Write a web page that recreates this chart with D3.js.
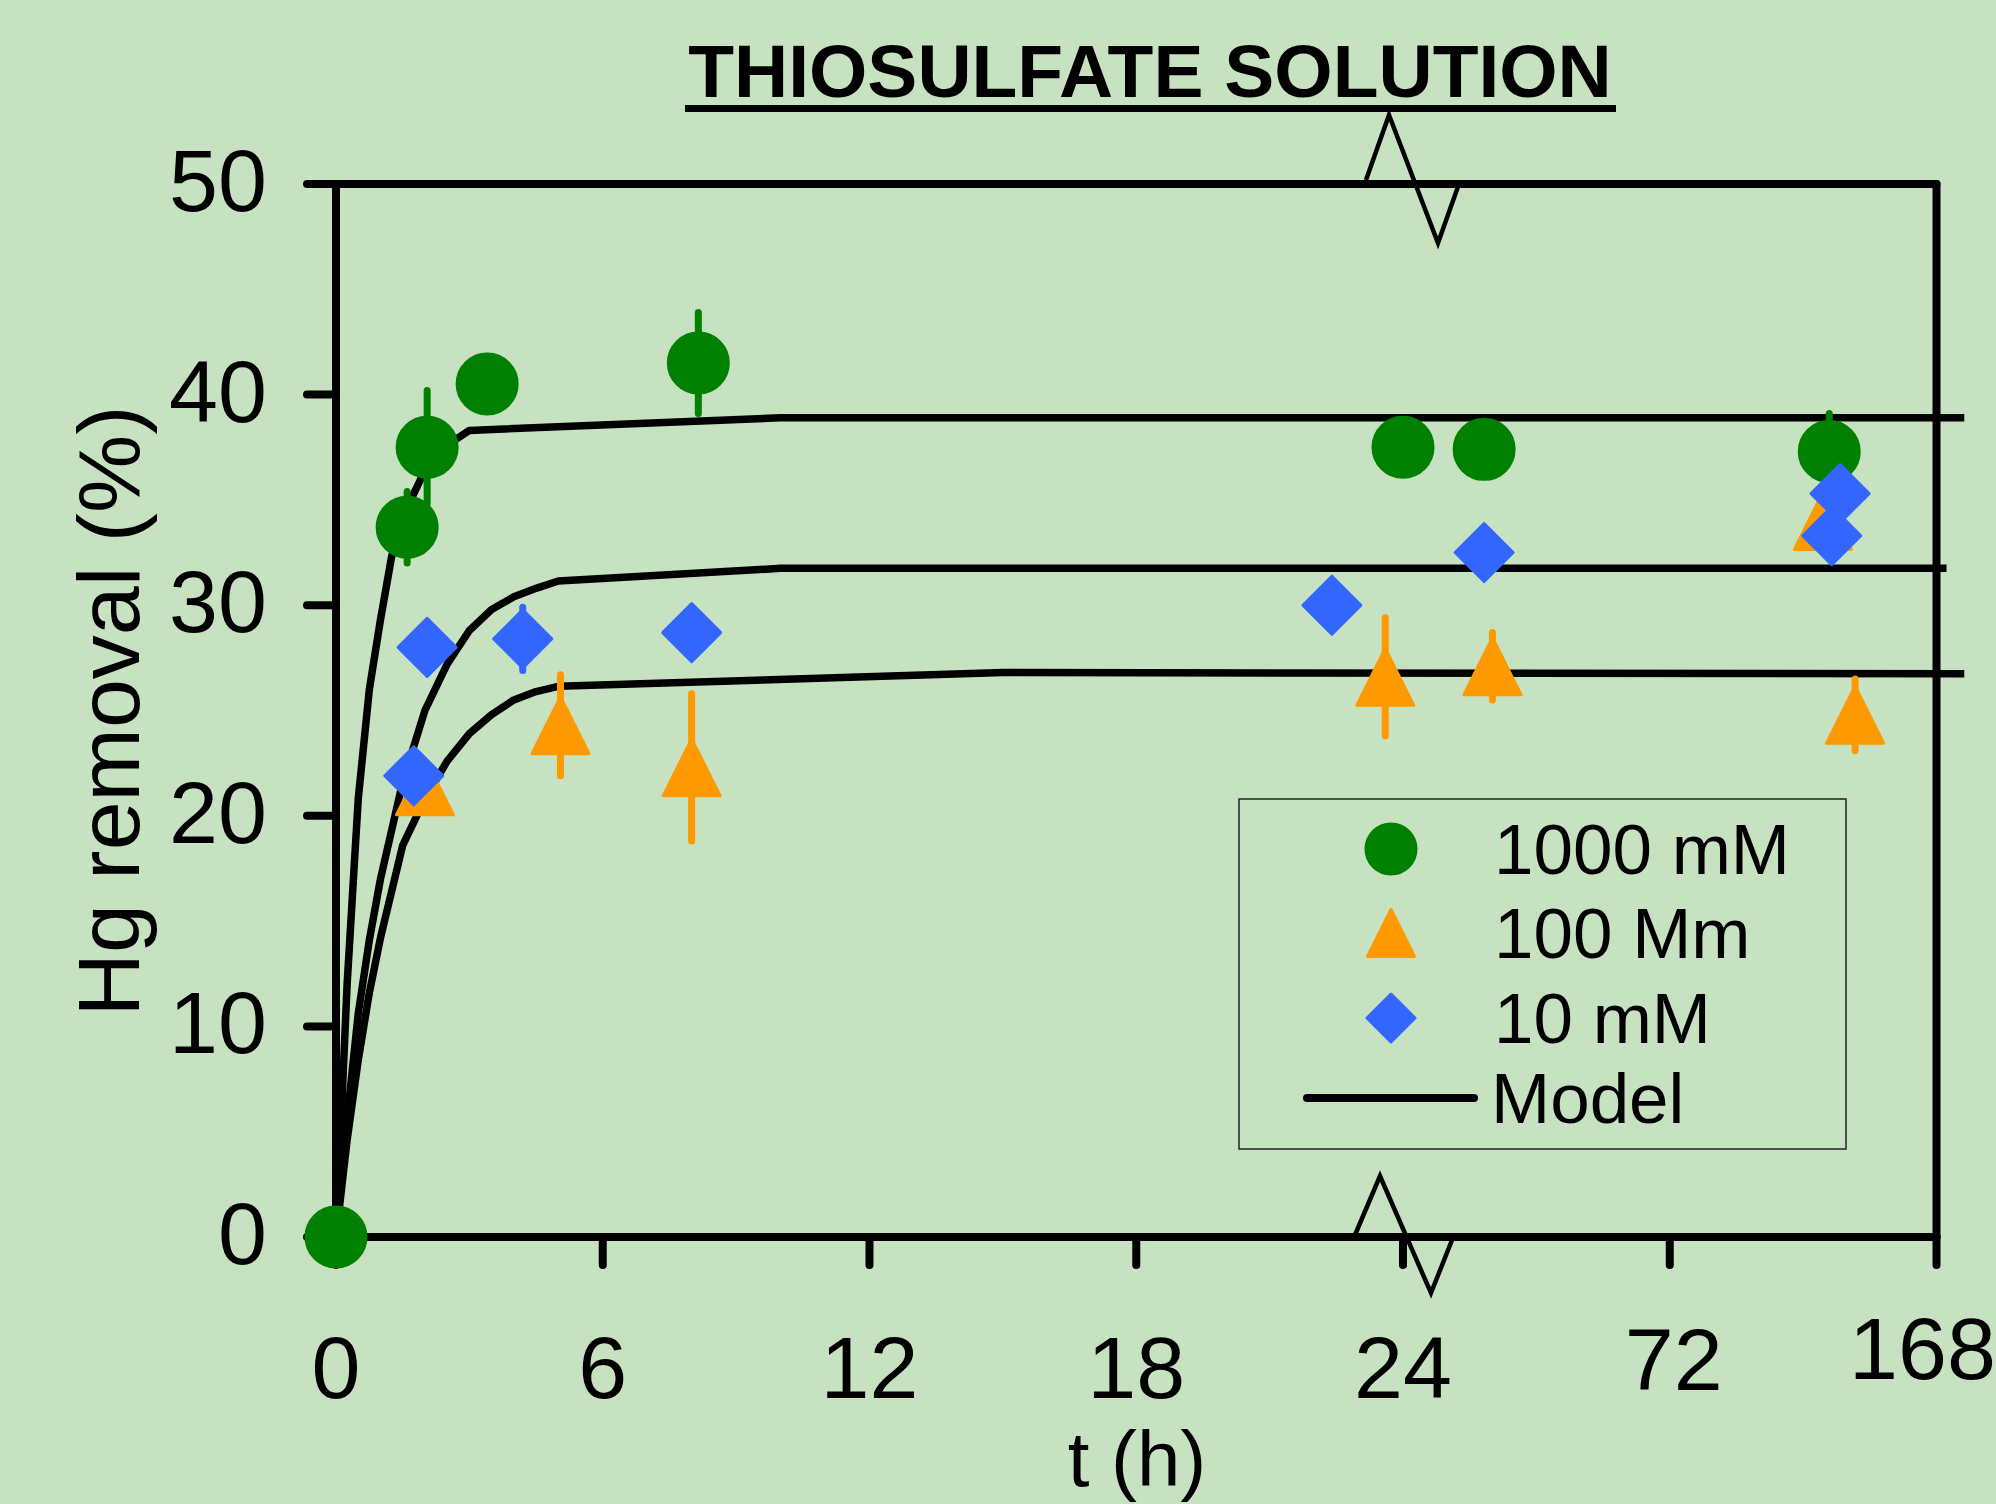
<!DOCTYPE html>
<html>
<head>
<meta charset="utf-8">
<title>Thiosulfate solution</title>
<script src="https://cdn.jsdelivr.net/npm/d3@7"></script>
<style>
  html, body { margin: 0; padding: 0; background: #c7e2c1; }
  svg { display: block; font-family: 'Liberation Sans', Arial, sans-serif; }
</style>
</head>
<body>
<div id="chart"></div>
<script>
// axis ticks (x axis is broken after 24 h, each label gets the same room)
const tickHours = [0, 6, 12, 18, 24, 72, 168];
const yTicks = [0, 10, 20, 30, 40, 50];

// measured points, 1000 mM
const t1000 = [0, 1.6, 2.05, 3.4, 8.15, 24, 38.6, 129.4];
const hg1000 = [0, 33.7, 37.5, 40.5, 41.5, 37.5, 37.4, 37.3];
const err1000 = [0, 1.7, 2.7, 0, 2.4, 0, 0, 1.8];

// measured points, 100 mM
const t100 = [2.0, 5.05, 8.0, 23.6, 40.1, 127.1, 138.7];
const hg100 = [21.4, 24.3, 22.3, 26.6, 27.1, 34.0, 24.8];
const err100 = [0, 2.4, 3.5, 2.8, 1.6, 0, 1.7];

// measured points, 10 mM
const t10 = [1.75, 2.05, 4.2, 8.0, 22.4, 38.6, 130.3, 133.3];
const hg10 = [21.9, 28.0, 28.4, 28.7, 30.0, 32.5, 33.3, 35.3];
const err10 = [0, 0, 1.5, 0, 0, 0, 0, 0];

// model curves
const modelT1000 = [0, 0.25, 0.5, 0.75, 1, 1.25, 1.5, 2, 2.5, 3, 10, 178];
const model1000 = [0, 12, 20.8, 26, 29.3, 32.3, 34.2, 36.4, 37.6, 38.3, 38.9, 38.9];
const modelT10 = [0, 0.25, 0.5, 0.75, 1, 1.5, 2, 2.5, 3, 3.5, 4, 4.5, 5, 10, 171.6];
const model10 = [0, 5.6, 10.6, 14.1, 17, 21.6, 25.0, 27.2, 28.8, 29.8, 30.4, 30.8, 31.15, 31.75, 31.75];
const modelT100 = [0, 0.25, 0.5, 0.75, 1, 1.5, 2, 2.5, 3, 3.5, 4, 4.5, 5, 15, 178];
const model100 = [0, 4.6, 8.4, 11.6, 14.2, 18.6, 20.8, 22.6, 23.9, 24.8, 25.5, 25.9, 26.15, 26.8, 26.75];

const legendLabels = ['1000 mM', '100 Mm', '10 mM', 'Model'];

const width = 1996;
const height = 1504;
const plot = { left: 336, right: 1936.5, top: 184, bottom: 1237 };

const svg = d3.select('#chart')
  .append('svg')
  .attr('width', width)
  .attr('height', height);

svg.append('rect')
  .attr('width', width)
  .attr('height', height)
  .attr('fill', '#c7e2c1');

// polylinear x: equal spacing per labelled tick
const step = (plot.right - plot.left) / (tickHours.length - 1);
const x = d3.scaleLinear()
  .domain(tickHours)
  .range(tickHours.map((d, i) => plot.left + i * step));

const y = d3.scaleLinear()
  .domain([0, 50])
  .range([plot.bottom, plot.top]);

// custom marker shapes
const diamond = {
  draw(ctx, size) {
    const r = Math.sqrt(size) / 2;
    ctx.moveTo(0, -r); ctx.lineTo(r, 0); ctx.lineTo(0, r); ctx.lineTo(-r, 0); ctx.closePath();
  }
};
const triangle = {
  draw(ctx, size) {
    const r = Math.sqrt(size) / 2;
    ctx.moveTo(0, -r); ctx.lineTo(r, r); ctx.lineTo(-r, r); ctx.closePath();
  }
};

const series = [
  { name: legendLabels[0], t: t1000, v: hg1000, err: err1000, color: '#008000', shape: d3.symbolCircle, size: Math.PI * 30 * 30, legendSize: Math.PI * 25 * 25 },
  { name: legendLabels[1], t: t100, v: hg100, err: err100, color: '#ff9900', shape: triangle, size: 57 * 57, legendSize: 47 * 47 },
  { name: legendLabels[2], t: t10, v: hg10, err: err10, color: '#3366ff', shape: diamond, size: 58 * 58, legendSize: 48 * 48 }
];

const models = [
  { t: modelT1000, v: model1000 },
  { t: modelT10, v: model10 },
  { t: modelT100, v: model100 }
];

// frame
const frame = svg.append('g')
  .attr('stroke', '#000')
  .attr('stroke-width', 8)
  .attr('stroke-linecap', 'round')
  .attr('fill', 'none');

frame.append('line').attr('x1', plot.left).attr('y1', plot.top).attr('x2', plot.left).attr('y2', plot.bottom);
frame.append('line').attr('x1', plot.left).attr('y1', plot.top).attr('x2', plot.right).attr('y2', plot.top);
frame.append('line').attr('x1', plot.right).attr('y1', plot.top).attr('x2', plot.right).attr('y2', plot.bottom);
frame.append('line').attr('x1', plot.left).attr('y1', plot.bottom).attr('x2', plot.right).attr('y2', plot.bottom);

// y ticks and labels
frame.selectAll('.ytick')
  .data(yTicks)
  .enter()
  .append('line')
  .attr('x1', plot.left - 29)
  .attr('x2', plot.left)
  .attr('y1', d => y(d))
  .attr('y2', d => y(d));

svg.selectAll('.ylabel')
  .data(yTicks)
  .enter()
  .append('text')
  .attr('x', 267)
  .attr('y', d => y(d) + 27)
  .attr('text-anchor', 'end')
  .style('font-size', '88px')
  .text(d => d);

// x ticks and labels
frame.selectAll('.xtick')
  .data(tickHours)
  .enter()
  .append('line')
  .attr('x1', d => x(d))
  .attr('x2', d => x(d))
  .attr('y1', plot.bottom)
  .attr('y2', plot.bottom + 28);

// the last two labels sit a little higher and the last one is pulled in
const xLabelShift = { 72: [4, -8], 168: [-14, -19] };
svg.selectAll('.xlabel')
  .data(tickHours)
  .enter()
  .append('text')
  .attr('x', d => x(d) + (xLabelShift[d] ? xLabelShift[d][0] : 0))
  .attr('y', d => 1398 + (xLabelShift[d] ? xLabelShift[d][1] : 0))
  .attr('text-anchor', 'middle')
  .style('font-size', '88px')
  .text(d => d);

// axis break marks around 24 h
const bx = x(24);
const zig = d3.line();
svg.append('path')
  .attr('d', zig([[bx - 37, plot.top - 4], [bx - 14, plot.top - 69], [bx + 35, plot.top + 59], [bx + 57, plot.top - 3]]))
  .attr('fill', 'none').attr('stroke', '#000').attr('stroke-width', 4.5);
svg.append('path')
  .attr('d', zig([[bx - 48, plot.bottom - 2], [bx - 23, plot.bottom - 61], [bx + 28, plot.bottom + 56], [bx + 51, plot.bottom - 2]]))
  .attr('fill', 'none').attr('stroke', '#000').attr('stroke-width', 4.5);

// model curves
const line = d3.line()
  .x(d => x(d[0]))
  .y(d => y(d[1]));

svg.selectAll('.model')
  .data(models)
  .enter()
  .append('path')
  .attr('class', 'model')
  .attr('d', m => line(m.t.map((t, i) => [t, m.v[i]])))
  .attr('fill', 'none')
  .attr('stroke', '#000')
  .attr('stroke-width', 7.5)
  .attr('stroke-linejoin', 'round');

// points with error bars
series.forEach(s => {
  const pts = s.t.map((t, i) => ({ t, v: s.v[i], e: s.err[i] }));
  const g = svg.append('g');

  g.selectAll('.err')
    .data(pts.filter(p => p.e > 0))
    .enter()
    .append('line')
    .attr('x1', p => x(p.t))
    .attr('x2', p => x(p.t))
    .attr('y1', p => y(p.v - p.e))
    .attr('y2', p => y(p.v + p.e))
    .attr('stroke', s.color)
    .attr('stroke-width', 7)
    .attr('stroke-linecap', 'round');

  g.selectAll('.pt')
    .data(pts)
    .enter()
    .append('path')
    .attr('transform', p => `translate(${x(p.t)},${y(p.v)})`)
    .attr('d', d3.symbol(s.shape, s.size))
    .attr('fill', s.color)
    .attr('stroke', s.color)
    .attr('stroke-width', 3)
    .attr('stroke-linejoin', 'round');
});

// title
svg.append('text')
  .attr('x', 1150)
  .attr('y', 97)
  .attr('text-anchor', 'middle')
  .style('font-size', '75px')
  .style('font-weight', 'bold')
  .text('THIOSULFATE SOLUTION');
svg.append('line')
  .attr('x1', 685).attr('x2', 1616)
  .attr('y1', 108.5).attr('y2', 108.5)
  .attr('stroke', '#000').attr('stroke-width', 7);

// axis titles
svg.append('text')
  .attr('transform', 'translate(139,711) rotate(-90)')
  .attr('text-anchor', 'middle')
  .style('font-size', '88px')
  .text('Hg removal (%)');

svg.append('text')
  .attr('x', 1137)
  .attr('y', 1486)
  .attr('text-anchor', 'middle')
  .style('font-size', '78px')
  .text('t (h)');

// legend
const legend = svg.append('g').attr('class', 'legend');
legend.append('rect')
  .attr('x', 1239).attr('y', 799)
  .attr('width', 607).attr('height', 350)
  .attr('fill', 'none')
  .attr('stroke', '#222')
  .attr('stroke-width', 1.5);

const rowY = [849, 933, 1018, 1098];
series.forEach((s, i) => {
  legend.append('path')
    .attr('transform', `translate(1391,${rowY[i]})`)
    .attr('d', d3.symbol(s.shape, s.legendSize))
    .attr('fill', s.color)
    .attr('stroke', s.color)
    .attr('stroke-width', 3)
    .attr('stroke-linejoin', 'round');
});
legend.append('line')
  .attr('x1', 1307).attr('x2', 1474)
  .attr('y1', rowY[3]).attr('y2', rowY[3])
  .attr('stroke', '#000').attr('stroke-width', 8).attr('stroke-linecap', 'round');

legend.selectAll('.ltext')
  .data(legendLabels)
  .enter()
  .append('text')
  .attr('x', (d, i) => i === 3 ? 1491 : 1494)
  .attr('y', (d, i) => rowY[i] + 25)
  .style('font-size', '71px')
  .text(d => d);
</script>
</body>
</html>
